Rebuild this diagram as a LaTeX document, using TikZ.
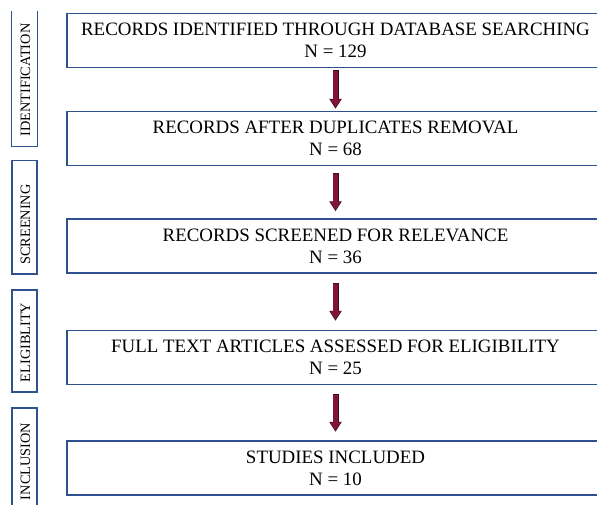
\documentclass[tikz,border=0pt]{standalone}
\usepackage{fontspec}
\setmainfont{Liberation Serif}
\usetikzlibrary{arrows.meta}
\definecolor{boxblue}{RGB}{47,82,143}
\definecolor{arrowfill}{RGB}{130,20,55}
\definecolor{arrowedge}{RGB}{65,10,28}
\tikzset{
  mainbox/.style={draw=boxblue, line width=1.5pt, rectangle, align=center,
    font=\fontsize{18.9}{22}\selectfont, inner sep=0pt,
    minimum width=537pt, minimum height=54pt},
  sideframe/.style={rectangle, draw=boxblue, line width=1.3pt, inner sep=0pt,
    minimum width=25pt},
  sideopen/.style={rectangle, inner sep=0pt, minimum width=25pt},
  sidetext/.style={rotate=90, inner sep=0pt, font=\fontsize{14.3}{16}\selectfont},
  arrowback/.style={line width=6pt, draw=arrowedge,
    -{Triangle[width=12pt,length=10pt]}},
  arrowfront/.style={line width=4.4pt, draw=arrowfill,
    -{Triangle[width=9.8pt,length=8pt]}},
}
\begin{document}
\begin{tikzpicture}[x=1pt,y=-1pt]
\useasboundingbox (0,0) rectangle (597,504);
\clip (0,0) rectangle (597,504);

% main boxes
\node[mainbox] (b1) at (335.5,40.5) {RECORDS IDENTIFIED THROUGH DATABASE SEARCHING\\N = 129};
\node[mainbox] (b2) at (335.5,138.5) {RECORDS AFTER DUPLICATES REMOVAL\\N = 68};
\node[mainbox] (b3) at (335.5,246) {RECORDS SCREENED FOR RELEVANCE\\N = 36};
\node[mainbox] (b4) at (335.5,357.5) {FULL TEXT ARTICLES ASSESSED FOR ELIGIBILITY\\N = 25};
\node[mainbox] (b5) at (335.5,468) {STUDIES INCLUDED\\N = 10};

% arrows
\foreach \a/\b/\s in {b1/b2/2, b2/b3/7, b3/b4/9, b4/b5/8.5} {
  \draw[arrowback, shorten <=\s pt, shorten >=\s pt] (\a) -- (\b);
  \draw[arrowfront, shorten <=\s pt+0.8pt, shorten >=\s pt+1.3pt] (\a) -- (\b);
}

% side labels
\node[sideopen, minimum height=135pt] (l1) at (24.5,78.5) {};
\draw[boxblue, line width=1.3pt] (l1.north west) -- (l1.south west) -- (l1.south east) -- (l1.north east);
\node[sidetext] (t1) at (25.5,80) {IDENTIFICATION};

\node[sideframe, minimum height=113.5pt] (l2) at (24.5,217.25) {};
\node[sidetext] (t2) at (25.5,224.5) {SCREENING};

\node[sideframe, minimum height=102pt] (l3) at (24.5,341) {};
\node[sidetext] (t3) at (25.5,342.5) {ELIGIBLITY};

\node[sideframe, minimum height=112pt] (l4) at (24.5,464) {};
\node[sidetext] (t4) at (25.5,461.5) {INCLUSION};
\end{tikzpicture}
\end{document}
